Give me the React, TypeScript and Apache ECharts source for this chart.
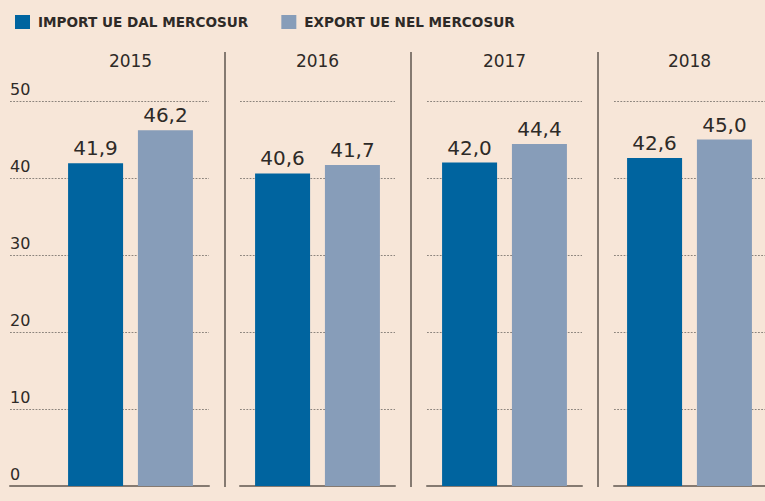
import React, { useEffect, useRef } from "react";
import * as echarts from "echarts";

const years = ["2015", "2016", "2017", "2018"];
const importValues = [41.9, 40.6, 42.0, 42.6];
const exportValues = [46.2, 41.7, 44.4, 45.0];
const seriesNames = ["IMPORT UE DAL MERCOSUR", "EXPORT UE NEL MERCOSUR"];
const yMin = 0;
const yMax = 50;
const yInterval = 10;

const BG = "#f7e6d8";
const TEXT = "#2e2a27";
const IMPORT_COLOR = "#00649f";
const EXPORT_COLOR = "#879db9";
const AXIS_COLOR = "#857a71";
const DOT_COLOR = "#8c847d";

export default function App() {
  const ref = useRef<HTMLDivElement>(null);

  useEffect(() => {
    if (!ref.current) return;
    const chart = echarts.init(ref.current, null, { renderer: "svg" });

    const panelLefts = [53, 240, 427, 614];
    const panelWidth = 155;
    const top = 101;
    const bottom = 15;

    const grids: any[] = panelLefts.map((l) => ({ left: l, width: panelWidth, top, bottom }));
    grids.push({ left: 10, width: 199, top, bottom });

    const xAxes: any[] = [];
    const yAxes: any[] = [];
    const series: any[] = [];
    const fmt = (p: any) => Number(p.value).toFixed(1).replace(".", ",");
    const splitLine = {
      show: true,
      lineStyle: { color: DOT_COLOR, width: 1, type: [1.8, 1.4] },
    };

    years.forEach((yr, i) => {
      const topIdx = xAxes.length;
      xAxes.push({
        type: "category",
        gridIndex: i,
        position: "top",
        data: [yr],
        axisLine: { show: false },
        axisTick: { show: false },
        axisLabel: { color: TEXT, fontSize: 17, margin: 32, fontFamily: "DejaVu Sans" },
      });
      if (i > 0) {
        xAxes.push({
          type: "category",
          gridIndex: i,
          position: "bottom",
          data: [yr],
          axisLine: { show: true, lineStyle: { color: AXIS_COLOR, width: 2 } },
          axisTick: { show: false },
          axisLabel: { show: false },
        });
      }
      yAxes.push({
        type: "value",
        gridIndex: i,
        min: yMin,
        max: yMax,
        interval: yInterval,
        axisLine: { show: false },
        axisTick: { show: false },
        axisLabel: { show: false },
        splitLine: { ...splitLine, show: i > 0 },
      });
      const label = {
        show: true,
        position: "top",
        distance: 5,
        color: TEXT,
        fontSize: 20,
        fontFamily: "DejaVu Sans",
        formatter: fmt,
      };
      series.push({
        type: "bar",
        name: seriesNames[0],
        xAxisIndex: topIdx,
        yAxisIndex: i,
        data: [importValues[i]],
        barWidth: 55,
        barGap: "27%",
        itemStyle: { color: IMPORT_COLOR },
        label,
      });
      series.push({
        type: "bar",
        name: seriesNames[1],
        xAxisIndex: topIdx,
        yAxisIndex: i,
        data: [exportValues[i]],
        barWidth: 55,
        barGap: "27%",
        itemStyle: { color: EXPORT_COLOR },
        label,
      });
    });

    // axis grid for first panel (labels, dotted lines, baseline)
    xAxes.push({
      type: "category",
      gridIndex: 4,
      position: "bottom",
      data: [years[0]],
      axisLine: { show: true, lineStyle: { color: AXIS_COLOR, width: 2 } },
      axisTick: { show: false },
      axisLabel: { show: false },
    });
    yAxes.push({
      type: "value",
      gridIndex: 4,
      min: yMin,
      max: yMax,
      interval: yInterval,
      axisLine: { show: false },
      axisTick: { show: false },
      axisLabel: {
        inside: true,
        margin: 0,
        align: "left",
        verticalAlign: "bottom",
        padding: [0, 0, 4, 0],
        color: TEXT,
        fontSize: 16,
        fontFamily: "DejaVu Sans",
      },
      splitLine,
    });

    const sepXs = [225, 411, 598];
    const graphic = sepXs.map((x) => ({
      type: "line",
      shape: { x1: x, y1: 52, x2: x, y2: 487 },
      style: { stroke: AXIS_COLOR, lineWidth: 2 },
    }));

    chart.setOption({
      animation: false,
      backgroundColor: BG,
      legend: {
        left: 10,
        top: 10,
        itemWidth: 15,
        itemHeight: 14,
        itemGap: 33,
        icon: "rect",
        data: seriesNames,
        textStyle: {
          color: TEXT,
          fontSize: 13.6,
          fontWeight: "bold",
          fontFamily: "DejaVu Sans",
          padding: [0, 0, 0, 3],
        },
      },
      grid: grids,
      xAxis: xAxes,
      yAxis: yAxes,
      series,
      graphic,
    });

    return () => chart.dispose();
  }, []);

  return (
    <div
      ref={ref}
      style={{ width: 765, height: 501, position: "absolute", left: 0, top: 0 }}
    />
  );
}
